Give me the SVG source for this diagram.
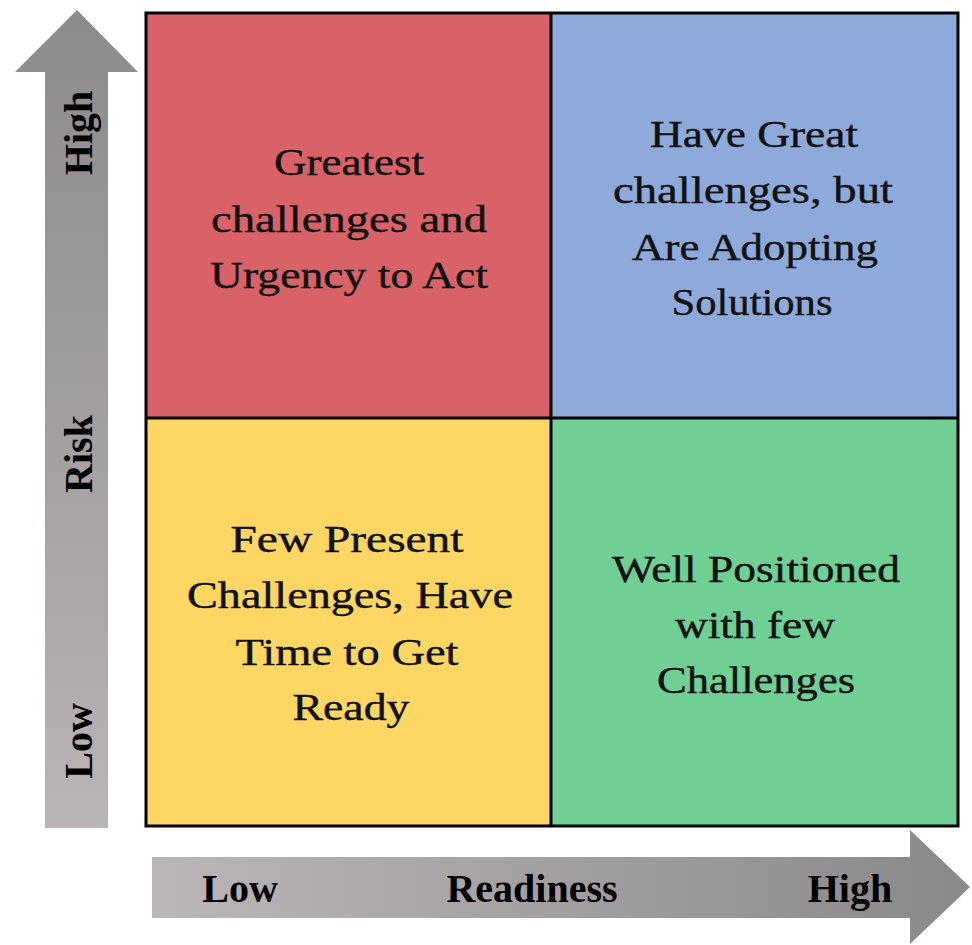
<svg xmlns="http://www.w3.org/2000/svg" width="972" height="945" viewBox="0 0 972 945">
<defs>
<linearGradient id="gv" x1="0" y1="0" x2="0" y2="1">
<stop offset="0" stop-color="#8c8a8b"/>
<stop offset="1" stop-color="#b9b4b5"/>
</linearGradient>
<linearGradient id="gh" x1="0" y1="0" x2="1" y2="0">
<stop offset="0" stop-color="#bbb6b7"/>
<stop offset="1" stop-color="#8a8889"/>
</linearGradient>
<style>
.q{font-family:"Liberation Serif","Times New Roman",serif;font-size:37px;fill:#111;text-anchor:middle;stroke:#111;stroke-width:0.4}
.ax{font-family:"Liberation Serif","Times New Roman",serif;font-size:40px;font-weight:bold;fill:#000}
.cell{stroke:none}
</style>
</defs>
<rect width="972" height="945" fill="#ffffff"/>
<g id="axes">
<g id="risk-axis">
<path d="M77,10 L138,72 L108,72 L108,828 L45,828 L45,72 L15,72 Z" fill="url(#gv)"/>
<text class="ax" transform="translate(92,133) rotate(-90)" text-anchor="middle">High</text>
<text class="ax" transform="translate(92,454) rotate(-90)" text-anchor="middle">Risk</text>
<text class="ax" transform="translate(92,741) rotate(-90)" text-anchor="middle">Low</text>
</g>
<g id="readiness-axis">
<path d="M152,857 L910,857 L910,830 L970,887 L910,944 L910,918 L152,918 Z" fill="url(#gh)"/>
<text class="ax" x="240" y="902" text-anchor="middle">Low</text>
<text class="ax" x="532" y="902" text-anchor="middle">Readiness</text>
<text class="ax" x="850" y="902" text-anchor="middle">High</text>
</g>
</g>
<g id="q-high-risk-low-readiness">
<rect class="cell" x="146" y="13" width="405" height="405" fill="#d96268"/>
<text class="q" x="349" y="175" textLength="150" lengthAdjust="spacingAndGlyphs">Greatest</text>
<text class="q" x="349" y="232" textLength="276" lengthAdjust="spacingAndGlyphs">challenges  and</text>
<text class="q" x="349" y="288" textLength="278" lengthAdjust="spacingAndGlyphs">Urgency  to Act</text>
</g>
<g id="q-high-risk-high-readiness">
<rect class="cell" x="551" y="13" width="407" height="405" fill="#8eaadb"/>
<text class="q" x="754" y="147" textLength="208" lengthAdjust="spacingAndGlyphs">Have  Great</text>
<text class="q" x="753" y="203" textLength="280" lengthAdjust="spacingAndGlyphs">challenges,  but</text>
<text class="q" x="755" y="260" textLength="246" lengthAdjust="spacingAndGlyphs">Are Adopting</text>
<text class="q" x="752" y="315" textLength="161" lengthAdjust="spacingAndGlyphs">Solutions</text>
</g>
<g id="q-low-risk-low-readiness">
<rect class="cell" x="146" y="418" width="405" height="408" fill="#fdd664"/>
<text class="q" x="347" y="552" textLength="233" lengthAdjust="spacingAndGlyphs">Few Present</text>
<text class="q" x="350" y="608" textLength="326" lengthAdjust="spacingAndGlyphs">Challenges,  Have</text>
<text class="q" x="347" y="665" textLength="223" lengthAdjust="spacingAndGlyphs">Time to Get</text>
<text class="q" x="351" y="720" textLength="117" lengthAdjust="spacingAndGlyphs">Ready</text>
</g>
<g id="q-low-risk-high-readiness">
<rect class="cell" x="551" y="418" width="407" height="408" fill="#6fcf95"/>
<text class="q" x="756" y="582" textLength="288" lengthAdjust="spacingAndGlyphs">Well Positioned</text>
<text class="q" x="755" y="638" textLength="160" lengthAdjust="spacingAndGlyphs">with few</text>
<text class="q" x="756" y="693" textLength="198" lengthAdjust="spacingAndGlyphs">Challenges</text>
</g>
<g id="grid-lines" fill="none" stroke="#000" stroke-width="3">
<rect x="146" y="13" width="812" height="813"/>
<line x1="551" y1="13" x2="551" y2="826"/>
<line x1="146" y1="418" x2="958" y2="418"/>
</g>
</svg>
